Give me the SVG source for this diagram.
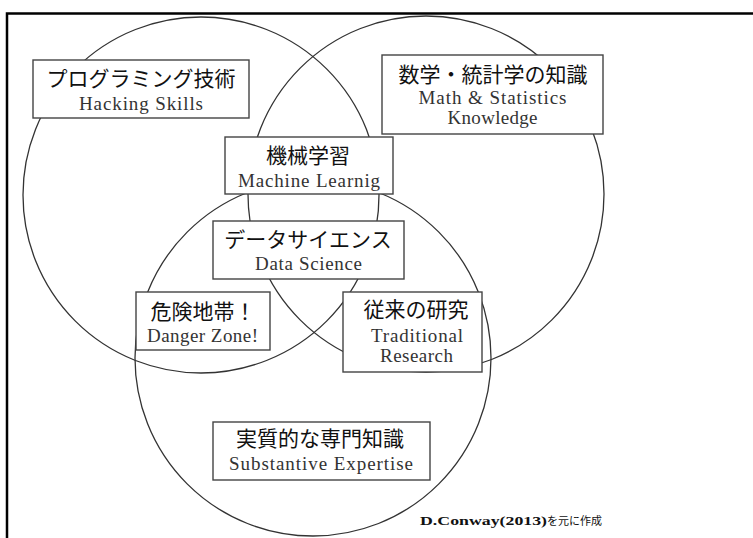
<svg xmlns="http://www.w3.org/2000/svg" width="753" height="538" viewBox="0 0 753 538">
<style>
.circ{fill:none;stroke:#333;stroke-width:1.3}
.box{fill:#fff;stroke:#444;stroke-width:1.4}
.jp{font-family:"Noto Sans CJK JP","Noto Sans",sans-serif;font-size:21px;fill:#111;text-anchor:middle}
.en{font-family:"Liberation Serif","DejaVu Serif",serif;font-size:19px;fill:#333;text-anchor:middle}
.frame{fill:none;stroke:#000;stroke-width:2.5}
</style>
<rect width="753" height="538" fill="#fff"/>
<path class="frame" d="M7,538 V13.5 H753"/>
<g id="circles">
<circle class="circ" cx="201" cy="195" r="178"/>
<circle class="circ" cx="426" cy="194" r="178"/>
<circle class="circ" cx="313" cy="358" r="178"/>
</g>
<g id="hacking">
<rect class="box" x="33" y="60" width="216" height="58"/>
<text class="jp" x="141" y="86">プログラミング技術</text>
<text class="en" x="141" y="110" textLength="124" lengthAdjust="spacing">Hacking Skills</text>
</g>
<g id="math">
<rect class="box" x="382" y="55" width="221" height="79"/>
<text class="jp" x="493" y="82">数学・統計学の知識</text>
<text class="en" x="492.5" y="103.5" textLength="148" lengthAdjust="spacing">Math &amp; Statistics</text>
<text class="en" x="492.5" y="123.5" textLength="90" lengthAdjust="spacing">Knowledge</text>
</g>
<g id="ml">
<rect class="box" x="225" y="137" width="168" height="57"/>
<text class="jp" x="308" y="163">機械学習</text>
<text class="en" x="309" y="187" textLength="142" lengthAdjust="spacing">Machine Learnig</text>
</g>
<g id="ds">
<rect class="box" x="213" y="221" width="191" height="58"/>
<text class="jp" x="308" y="247">データサイエンス</text>
<text class="en" x="308.5" y="270" textLength="107" lengthAdjust="spacing">Data Science</text>
</g>
<g id="danger">
<rect class="box" x="136" y="292" width="134" height="58"/>
<text class="jp" x="203" y="319">危険地帯！</text>
<text class="en" x="202.5" y="341.5" textLength="111" lengthAdjust="spacing">Danger Zone!</text>
</g>
<g id="traditional">
<rect class="box" x="343" y="292" width="139" height="80"/>
<text class="jp" x="416" y="317">従来の研究</text>
<text class="en" x="417" y="341.5" textLength="92" lengthAdjust="spacing">Traditional</text>
<text class="en" x="416.5" y="361.5" textLength="73" lengthAdjust="spacing">Research</text>
</g>
<g id="substantive">
<rect class="box" x="213" y="422" width="217" height="58"/>
<text class="jp" x="320" y="446">実質的な専門知識</text>
<text class="en" x="321" y="470" textLength="184" lengthAdjust="spacing">Substantive Expertise</text>
</g>
<g id="credit">
<text x="420" y="525" font-family="Liberation Serif, serif" font-weight="bold" font-size="13px" fill="#111"><tspan textLength="127" lengthAdjust="spacingAndGlyphs">D.Conway(2013)</tspan><tspan font-family="Noto Sans CJK JP, serif" font-weight="normal" font-size="11px">を元に作成</tspan></text>
</g>
</svg>
